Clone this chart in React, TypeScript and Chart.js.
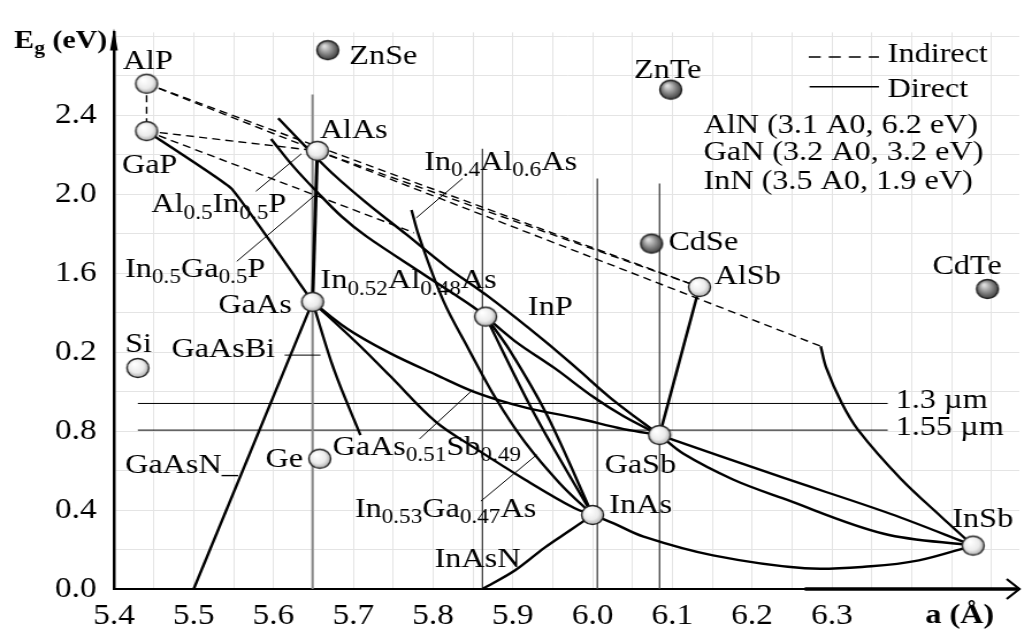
import React, { useEffect, useRef } from 'react';
import { Chart, registerables } from 'chart.js';

Chart.register(...registerables);

// ---------- axis ticks ----------
const xTickValues = [5.4, 5.5, 5.6, 5.7, 5.8, 5.9, 6.0, 6.1, 6.2, 6.3];
const xTickLabels = ['5.4', '5.5', '5.6', '5.7', '5.8', '5.9', '6.0', '6.1', '6.2', '6.3'];
const yTickValues = [0, 0.4, 0.8, 1.2, 1.6, 2.0, 2.4];
const yTickLabels = ['0.0', '0.4', '0.8', '0.2', '1.6', '2.0', '2.4'];

// ---------- binary compounds: lattice constant a (Å), band gap Eg (eV) ----------
const lightNames = ['AlP', 'GaP', 'AlAs', 'GaAs', 'InP', 'AlSb', 'GaSb', 'InAs', 'InSb', 'Si', 'Ge'];
const lightA = [5.441, 5.441, 5.655, 5.649, 5.866, 6.134, 6.084, 6.0, 6.477, 5.43, 5.658];
const lightEg = [2.56, 2.32, 2.22, 1.455, 1.38, 1.53, 0.78, 0.375, 0.22, 1.12, 0.66];
const darkNames = ['ZnSe', 'ZnTe', 'CdSe', 'CdTe'];
const darkA = [5.668, 6.098, 6.074, 6.495];
const darkEg = [2.73, 2.53, 1.75, 1.52];

// ---------- indirect gap (dashed) ----------
const dashAlPGaP = [[5.441, 2.56], [5.441, 2.32]];
const dashAlPAlSb = [[5.441, 2.56], [6.134, 1.53]];
const dashAlPAlAs = [[5.441, 2.56], [5.655, 2.22]];
const dashGaPAlAs = [[5.441, 2.32], [5.655, 2.22]];
const dashGaPInP = [[5.441, 2.32], [5.776, 1.805]];
const dashAlAsAlSb = [[5.655, 2.22], [6.134, 1.53]];
const dashAlAsCross = [[5.655, 2.22], [6.286, 1.23]];

// ---------- direct gap (solid) ----------
const curveGaPGaAs = [[5.441, 2.32], [5.547, 2.03], [5.649, 1.455]];
const curveAlAsGaAs = [[5.655, 2.22], [5.649, 1.455]];
const curveTopGaSb = [[5.606, 2.385], [5.643, 2.23], [5.674, 2.105], [5.717, 1.955], [5.767, 1.795], [5.816, 1.635], [5.87, 1.48], [5.939, 1.26], [5.981, 1.115], [6.025, 0.96], [6.084, 0.78]];
const curveTopInP = [[5.597, 2.28], [5.624, 2.145], [5.655, 2.01], [5.686, 1.885], [5.717, 1.785], [5.788, 1.595], [5.85, 1.43], [5.866, 1.38]];
const curveInPGaSb = [[5.866, 1.38], [5.903, 1.255], [5.952, 1.12], [6.002, 0.97], [6.039, 0.875], [6.084, 0.78]];
const curveInAlAsInAs = [[5.773, 1.92], [5.783, 1.78], [5.813, 1.46], [5.844, 1.22], [5.878, 0.97], [5.915, 0.745], [5.959, 0.535], [6.0, 0.375]];
const curveInPInAsA = [[5.866, 1.38], [5.928, 0.88], [6.0, 0.375]];
const curveInPInAsB = [[5.866, 1.38], [5.896, 1.21], [5.943, 0.88], [6.0, 0.375]];
const curveGaAsInAs = [[5.649, 1.455], [5.705, 1.245], [5.746, 1.08], [5.804, 0.845], [5.854, 0.71], [5.915, 0.555], [5.977, 0.41], [6.0, 0.375]];
const curveGaAsGaSb = [[5.649, 1.455], [5.692, 1.32], [5.746, 1.195], [5.804, 1.085], [5.854, 0.995], [5.915, 0.92], [5.981, 0.865], [6.039, 0.81], [6.084, 0.78]];
const curveGaAsShort = [[5.649, 1.455], [5.676, 1.11], [5.709, 0.78]];
const curveGaAsN = [[5.649, 1.455], [5.5, 0]];
const curveInAsN = [[5.862, 0], [5.903, 0.095], [5.94, 0.21], [5.971, 0.295], [6.0, 0.375]];
const curveInAsInSb = [[6.0, 0.375], [6.025, 0.335], [6.064, 0.265], [6.151, 0.17], [6.266, 0.105], [6.349, 0.115], [6.409, 0.145], [6.477, 0.22]];
const curveGaSbInSbA = [[6.084, 0.78], [6.238, 0.565], [6.374, 0.38], [6.477, 0.22]];
const curveGaSbInSbB = [[6.084, 0.78], [6.114, 0.685], [6.176, 0.555], [6.238, 0.46], [6.365, 0.28], [6.477, 0.22]];
const curveAlSbGaSb = [[6.134, 1.53], [6.084, 0.78]];
const curveAlSbInSb = [[6.286, 1.23], [6.293, 1.12], [6.312, 0.945], [6.333, 0.805], [6.386, 0.56], [6.436, 0.37], [6.477, 0.22]];

// ---------- lattice-matched verticals and wavelength lines ----------
const matchGaAs = [[5.649, 2.505], [5.649, 0]];
const matchInP = [[5.862, 2.23], [5.862, 0]];
const matchInAs = [[6.006, 2.08], [6.006, 0]];
const matchGaSb = [[6.084, 2.055], [6.084, 0]];
const line13um = [[5.43, 0.94], [6.37, 0.94]];
const line155um = [[5.43, 0.805], [6.37, 0.805]];

// ---------- label leader lines ----------
const leaderAlInP = [[5.578, 2.015], [5.635, 2.205]];
const leaderInGaP = [[5.554, 1.66], [5.652, 1.995]];
const leaderInAlAs = [[5.837, 2.08], [5.779, 1.88]];
const leaderGaAsBi = [[5.614, 1.185], [5.659, 1.185]];
const leaderGaAsSb = [[5.783, 0.76], [5.85, 1.01]];
const leaderInGaAs = [[5.86, 0.445], [5.93, 0.68]];

// ---------- legend samples ----------
const legendIndirect = [[6.271, 2.695], [6.359, 2.695]];
const legendDirect = [[6.272, 2.545], [6.359, 2.545]];

// ---------- text annotations (left edge, vertical centre, in data units) ----------
const chartLabels: { t: string; a: number; e: number; size?: number; bold?: boolean }[] = [
  { t: 'AlP', a: 5.411, e: 2.683 },
  { t: 'GaP', a: 5.41, e: 2.153 },
  { t: 'AlAs', a: 5.658, e: 2.333 },
  { t: 'ZnSe', a: 5.695, e: 2.708 },
  { t: 'ZnTe', a: 6.052, e: 2.638 },
  { t: 'CdSe', a: 6.095, e: 1.763 },
  { t: 'AlSb', a: 6.153, e: 1.59 },
  { t: 'CdTe', a: 6.426, e: 1.645 },
  { t: 'InP', a: 5.919, e: 1.433 },
  { t: 'GaSb', a: 6.015, e: 0.633 },
  { t: 'InAs', a: 6.021, e: 0.433 },
  { t: 'InSb', a: 6.451, e: 0.36 },
  { t: 'Si', a: 5.414, e: 1.25 },
  { t: 'Ge', a: 5.59, e: 0.665 },
  { t: 'GaAs', a: 5.531, e: 1.445 },
  { t: 'GaAsBi', a: 5.472, e: 1.22 },
  { t: 'GaAsN_', a: 5.414, e: 0.635 },
  { t: 'In_{0.5}Ga_{0.5}P', a: 5.414, e: 1.63 },
  { t: 'Al_{0.5}In_{0.5}P', a: 5.447, e: 1.955 },
  { t: 'In_{0.52}Al_{0.48}As', a: 5.659, e: 1.57 },
  { t: 'In_{0.4}Al_{0.6}As', a: 5.789, e: 2.17 },
  { t: 'GaAs_{0.51}Sb_{0.49}', a: 5.674, e: 0.725 },
  { t: 'In_{0.53}Ga_{0.47}As', a: 5.702, e: 0.41 },
  { t: 'InAsN', a: 5.802, e: 0.16 },
  { t: '1.3 µm', a: 6.38, e: 0.965 },
  { t: '1.55 µm', a: 6.38, e: 0.825 },
  { t: 'Indirect', a: 6.37, e: 2.715 },
  { t: 'Direct', a: 6.37, e: 2.54 },
  { t: 'AlN (3.1 A0, 6.2 eV)', a: 6.139, e: 2.355 },
  { t: 'GaN (3.2 A0, 3.2 eV)', a: 6.139, e: 2.22 },
  { t: 'InN (3.5 A0, 1.9 eV)', a: 6.139, e: 2.075 },
  { t: 'E_{g} (eV)', a: 5.275, e: 2.785, size: 26, bold: true },
  { t: 'a (Å)', a: 6.417, e: -0.125, size: 28, bold: true },
];

const axisThickFrom = 6.266;
const FONT = '"Liberation Serif", "Times New Roman", serif';

function parseRich(s: string) {
  const out: { t: string; sub: boolean }[] = [];
  const re = /_\{([^}]*)\}/g;
  let last = 0;
  let m: RegExpExecArray | null;
  while ((m = re.exec(s))) {
    if (m.index > last) out.push({ t: s.slice(last, m.index), sub: false });
    out.push({ t: m[1], sub: true });
    last = re.lastIndex;
  }
  if (last < s.length) out.push({ t: s.slice(last), sub: false });
  return out;
}

function drawRich(ctx: CanvasRenderingContext2D, text: string, x: number, yc: number, size: number, bold: boolean) {
  const base = yc + size * 0.33;
  let cx = x;
  for (const seg of parseRich(text)) {
    const fs = seg.sub ? size * 0.72 : size;
    ctx.font = `${bold ? 'bold ' : ''}${fs}px ${FONT}`;
    ctx.fillText(seg.t, cx, seg.sub ? base + size * 0.22 : base);
    cx += ctx.measureText(seg.t).width;
  }
}

const annotationPlugin = {
  id: 'annotations',
  afterDraw(chart: any) {
    const { ctx, chartArea } = chart;
    const xs = chart.scales.x;
    const ys = chart.scales.y;
    ctx.save();
    ctx.fillStyle = '#000';
    ctx.textAlign = 'left';
    ctx.textBaseline = 'alphabetic';
    for (const l of chartLabels) {
      drawRich(ctx, l.t, xs.getPixelForValue(l.a), ys.getPixelForValue(l.e), l.size ?? 28, !!l.bold);
    }
    const x0 = chartArea.left;
    ctx.beginPath();
    ctx.moveTo(x0, chartArea.top - 4);
    ctx.lineTo(x0 - 3.4, chartArea.top + 18);
    ctx.lineTo(x0 + 3.4, chartArea.top + 18);
    ctx.closePath();
    ctx.fill();
    const yb = chartArea.bottom;
    ctx.strokeStyle = '#000';
    ctx.lineWidth = 3.5;
    ctx.beginPath();
    ctx.moveTo(xs.getPixelForValue(axisThickFrom), yb);
    ctx.lineTo(chartArea.right, yb);
    ctx.stroke();
    ctx.lineWidth = 2.2;
    ctx.beginPath();
    ctx.moveTo(chartArea.right - 11, yb - 10);
    ctx.lineTo(chartArea.right, yb);
    ctx.lineTo(chartArea.right - 11, yb + 10);
    ctx.stroke();
    ctx.restore();
  },
};

function makeSphere(dark: boolean) {
  const c = document.createElement('canvas');
  c.width = 24;
  c.height = 24;
  const g = c.getContext('2d')!;
  const grad = g.createRadialGradient(9, 8, 1, 12, 12, 11);
  if (dark) {
    grad.addColorStop(0, '#dcdcdc');
    grad.addColorStop(0.45, '#8e8e8e');
    grad.addColorStop(1, '#2e2e2e');
  } else {
    grad.addColorStop(0, '#ffffff');
    grad.addColorStop(0.55, '#ececec');
    grad.addColorStop(1, '#9c9c9c');
  }
  g.beginPath();
  g.arc(12, 12, 9.5, 0, Math.PI * 2);
  g.fillStyle = grad;
  g.fill();
  g.lineWidth = 1.4;
  g.strokeStyle = '#222';
  g.stroke();
  return c;
}

const toXY = (pts: number[][]) => pts.map(([x, y]) => ({ x, y }));

function line(pts: number[][], opts: any = {}) {
  return {
    data: toXY(pts),
    showLine: true,
    borderColor: '#000',
    borderWidth: 2.4,
    pointRadius: 0,
    pointHoverRadius: 0,
    tension: 0,
    fill: false,
    clip: false,
    order: 2,
    ...opts,
  };
}

export default function App() {
  const ref = useRef<HTMLCanvasElement>(null);
  useEffect(() => {
    document.body.style.margin = '0';
    document.body.style.overflow = 'hidden';
    const canvas = ref.current!;
    const light = makeSphere(false);
    const dark = makeSphere(true);
    const dashed = { borderWidth: 1.4, borderDash: [7, 4.5], order: 3 };
    const curved = { tension: 0.35 };
    const datasets: any[] = [
      {
        label: 'III-V / IV',
        data: lightA.map((a, i) => ({ x: a, y: lightEg[i], name: lightNames[i] })),
        pointStyle: light,
        pointRadius: 10,
        showLine: false,
        clip: false,
        order: 0,
      },
      {
        label: 'II-VI',
        data: darkA.map((a, i) => ({ x: a, y: darkEg[i], name: darkNames[i] })),
        pointStyle: dark,
        pointRadius: 10,
        showLine: false,
        clip: false,
        order: 0,
      },
      line(dashAlPGaP, dashed),
      line(dashAlPAlSb, dashed),
      line(dashAlPAlAs, dashed),
      line(dashGaPAlAs, dashed),
      line(dashGaPInP, dashed),
      line(dashAlAsAlSb, dashed),
      line(dashAlAsCross, dashed),
      line(curveGaPGaAs, { tension: 0.1 }),
      line(curveAlAsGaAs, { borderWidth: 3 }),
      line(curveTopGaSb, curved),
      line(curveTopInP, curved),
      line(curveInPGaSb, curved),
      line(curveInAlAsInAs, curved),
      line(curveInPInAsA, curved),
      line(curveInPInAsB, curved),
      line(curveGaAsInAs, curved),
      line(curveGaAsGaSb, curved),
      line(curveGaAsShort, curved),
      line(curveGaAsN),
      line(curveInAsN, curved),
      line(curveInAsInSb, curved),
      line(curveGaSbInSbA, curved),
      line(curveGaSbInSbB, curved),
      line(curveAlSbGaSb, { borderWidth: 2.6 }),
      line(curveAlSbInSb, curved),
      line(matchGaAs, { borderColor: '#888', borderWidth: 2, order: 4 }),
      line(matchInP, { borderColor: '#444', borderWidth: 1.3, order: 4 }),
      line(matchInAs, { borderColor: '#444', borderWidth: 1.3, order: 4 }),
      line(matchGaSb, { borderColor: '#444', borderWidth: 1.3, order: 4 }),
      line(line13um, { borderWidth: 1, order: 4 }),
      line(line155um, { borderWidth: 1, order: 4 }),
      line(leaderAlInP, { borderWidth: 1 }),
      line(leaderInGaP, { borderWidth: 1 }),
      line(leaderInAlAs, { borderWidth: 1 }),
      line(leaderGaAsBi, { borderWidth: 1 }),
      line(leaderGaAsSb, { borderWidth: 1 }),
      line(leaderInGaAs, { borderWidth: 1 }),
      line(legendIndirect, { borderWidth: 1.4, borderDash: [10.4, 7] }),
      line(legendDirect, { borderWidth: 1.4 }),
    ];

    const tickFont = { family: FONT, size: 29 };
    const chart = new Chart(canvas, {
      type: 'scatter',
      data: { datasets },
      options: {
        responsive: false,
        animation: false,
        devicePixelRatio: 1,
        events: [],
        layout: { padding: { top: 25, right: 2, left: 0, bottom: 0 } },
        plugins: { legend: { display: false }, tooltip: { enabled: false } },
        scales: {
          x: {
            type: 'linear',
            min: 5.4,
            max: 6.535,
            afterFit: (s: any) => {
              s.height = 42;
            },
            grid: { color: '#e4e4e4', lineWidth: 1, drawTicks: false },
            border: { color: '#000', width: 2 },
            ticks: {
              stepSize: 0.05,
              autoSkip: false,
              maxRotation: 0,
              includeBounds: false,
              padding: 10,
              color: '#000',
              font: tickFont,
              callback: (v: any) => {
                const i = xTickValues.findIndex((t) => Math.abs(t - Number(v)) < 1e-6);
                return i >= 0 ? xTickLabels[i] : '';
              },
            },
          },
          y: {
            type: 'linear',
            min: 0,
            max: 2.82,
            afterFit: (s: any) => {
              s.width = 99;
            },
            grid: { color: '#e4e4e4', lineWidth: 1, drawTicks: false },
            border: { color: '#000', width: 2.5 },
            ticks: {
              stepSize: 0.2,
              autoSkip: false,
              includeBounds: false,
              padding: 15,
              color: '#000',
              font: tickFont,
              callback: (v: any) => {
                const i = yTickValues.findIndex((t) => Math.abs(t - Number(v)) < 1e-6);
                return i >= 0 ? yTickLabels[i] : '';
              },
            },
          },
        },
      },
      plugins: [annotationPlugin],
    } as any);
    return () => chart.destroy();
  }, []);

  return (
    <div style={{ width: 1032, height: 631, overflow: 'hidden', background: '#fff' }}>
      <canvas ref={ref} width={897} height={631} style={{ width: '1032px', height: '631px', display: 'block' }} />
    </div>
  );
}
